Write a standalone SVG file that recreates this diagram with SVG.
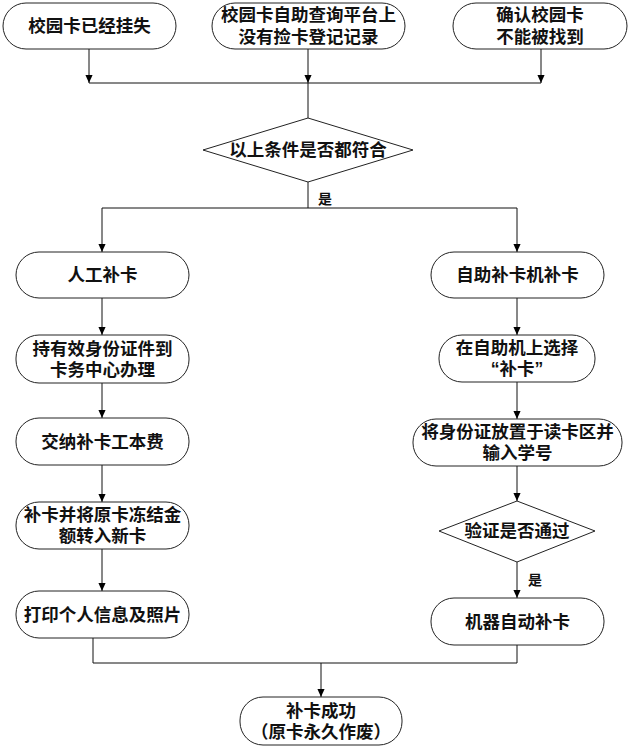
<svg xmlns="http://www.w3.org/2000/svg" width="630" height="748" viewBox="0 0 630 748">
<defs>
<marker id="arr" markerUnits="userSpaceOnUse" markerWidth="8" markerHeight="10" refX="9" refY="4" orient="auto" viewBox="0 0 9 8">
<path d="M0,0 L9,4 L0,8 z" fill="#000"/>
</marker>
<style>
.n{fill:#fff;stroke:#222;stroke-width:1}
.t{font-family:"Liberation Sans","Noto Sans CJK SC","Noto Sans CJK JP",sans-serif;font-size:17.5px;font-weight:bold;fill:#111;text-anchor:middle;dominant-baseline:central}
.s{font-family:"Liberation Sans","Noto Sans CJK SC",sans-serif;font-size:14px;font-weight:bold;fill:#111;text-anchor:middle;dominant-baseline:central}
.c{fill:none;stroke:#111;stroke-width:1}
.a{marker-end:url(#arr)}
</style>
</defs>
<rect width="630" height="748" fill="#fff"/>
<g id="connectors">
<path class="c a" d="M89,49 V83"/>
<path class="c a" d="M308,49 V83"/>
<path class="c a" d="M541,49 V83"/>
<path class="c" d="M89,83 H541"/>
<path class="c" d="M308,83 V118"/>
<path class="c" d="M308,182 V208"/>
<path class="c" d="M102,208 H517"/>
<path class="c a" d="M102,208 V252"/>
<path class="c a" d="M517,208 V252"/>
<path class="c a" d="M102,298 V335"/>
<path class="c a" d="M102,383 V418"/>
<path class="c a" d="M102,465 V502"/>
<path class="c a" d="M102,549 V591"/>
<path class="c a" d="M517,298 V335"/>
<path class="c a" d="M517,382 V419"/>
<path class="c a" d="M517,466 V501"/>
<path class="c a" d="M517,562 V598"/>
<path class="c" d="M93,638 V663 H517 V645"/>
<path class="c a" d="M321,663 V697"/>
<text class="s" x="325" y="199">是</text>
<text class="s" x="535" y="580">是</text>
</g>
<g id="n1"><rect class="n" x="3" y="3" width="173" height="46" rx="23"/><text class="t" x="89.5" y="26">校园卡已经挂失</text></g>
<g id="n2"><rect class="n" x="212" y="3" width="193" height="46" rx="23"/><text class="t" x="308.5" y="15">校园卡自助查询平台上<tspan x="308.5" dy="22">没有捡卡登记记录</tspan></text></g>
<g id="n3"><rect class="n" x="453" y="3" width="174" height="46" rx="23"/><text class="t" x="540" y="15">确认校园卡<tspan x="540" dy="22">不能被找到</tspan></text></g>
<g id="d1"><polygon class="n" points="308,118 413,150 308,182 203,150"/><text class="t" x="308" y="150">以上条件是否都符合</text></g>
<g id="l1"><rect class="n" x="16" y="252" width="173" height="46" rx="23"/><text class="t" x="102.5" y="275">人工补卡</text></g>
<g id="l2"><rect class="n" x="16" y="335" width="173" height="48" rx="23"/><text class="t" x="102.5" y="348.5">持有效身份证件到<tspan x="102.5" dy="21">卡务中心办理</tspan></text></g>
<g id="l3"><rect class="n" x="16" y="418" width="173" height="47" rx="23"/><text class="t" x="102.5" y="441.5">交纳补卡工本费</text></g>
<g id="l4"><rect class="n" x="16" y="502" width="173" height="47" rx="23"/><text class="t" x="102.5" y="515">补卡并将原卡冻结金<tspan x="102.5" dy="21">额转入新卡</tspan></text></g>
<g id="l5"><rect class="n" x="16" y="591" width="173" height="47" rx="23"/><text class="t" x="102.5" y="614.5">打印个人信息及照片</text></g>
<g id="r1"><rect class="n" x="431" y="252" width="173" height="46" rx="23"/><text class="t" x="517.5" y="275">自助补卡机补卡</text></g>
<g id="r2"><rect class="n" x="439" y="335" width="156" height="47" rx="23"/><text class="t" x="517" y="348">在自助机上选择<tspan x="517" dy="21">“补卡”</tspan></text></g>
<g id="r3"><rect class="n" x="413" y="419" width="209" height="47" rx="23"/><text class="t" x="517.5" y="432">将身份证放置于读卡区并<tspan x="517.5" dy="21">输入学号</tspan></text></g>
<g id="d2"><polygon class="n" points="517,501 595,531 517,562 439,531"/><text class="t" x="517" y="531">验证是否通过</text></g>
<g id="r4"><rect class="n" x="431" y="598" width="173" height="47" rx="23"/><text class="t" x="517.5" y="621.5">机器自动补卡</text></g>
<g id="end"><rect class="n" x="240" y="697" width="162" height="48" rx="23"/><text class="t" x="321" y="710.5">补卡成功<tspan x="321" dy="21">（原卡永久作废）</tspan></text></g>
</svg>
